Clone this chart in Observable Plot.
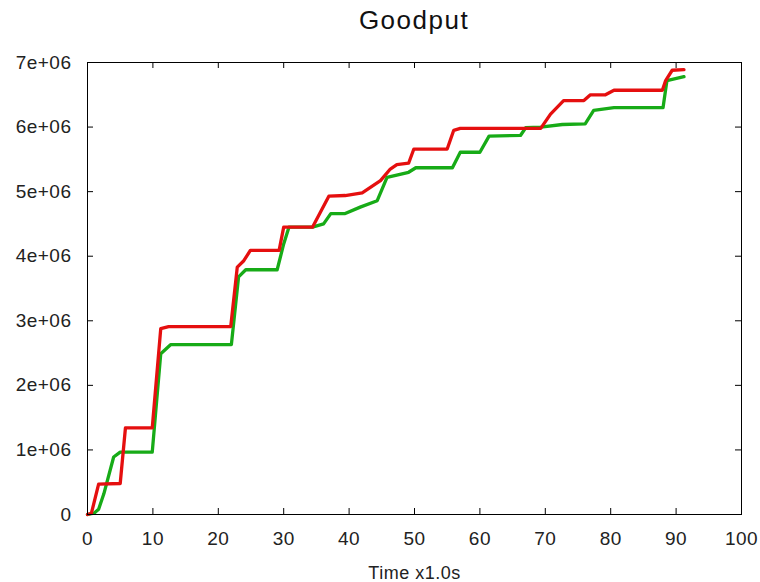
<!DOCTYPE html>
<html>
<head>
<meta charset="utf-8">
<script src="https://cdn.jsdelivr.net/npm/d3@7"></script>
<script src="https://cdn.jsdelivr.net/npm/@observablehq/plot@0.6"></script>
<style>
  html, body { margin: 0; padding: 0; background: #fff; }
  #wrap { position: relative; width: 760px; height: 582px; font-family: "Liberation Sans", Arial, sans-serif; }
  #title { position: absolute; left: 87px; width: 654px; top: 7px; line-height: 1; text-align: center; font-size: 26px; letter-spacing: 1.5px; color: #111; }
  svg { display: block; }
</style>
</head>
<body>
<div id="wrap"><div id="title">Goodput</div></div>
<script>
const redTime = [0, 0.6, 1.7, 5.0, 5.8, 9.9, 11.2, 12.4, 21.9, 22.9, 23.9, 24.9, 29.3, 30.0, 34.4, 36.9, 39.4, 42.0, 44.8, 46.3, 47.3, 49.1, 49.9, 55.0, 56.0, 57.0, 69.3, 70.8, 72.8, 75.9, 76.9, 79.2, 80.5, 87.9, 88.4, 89.4, 91.2];
const redGoodput = [0, 20000, 470000, 480000, 1340000, 1340000, 2880000, 2910000, 2910000, 3830000, 3930000, 4090000, 4090000, 4450000, 4450000, 4930000, 4940000, 4980000, 5170000, 5350000, 5420000, 5440000, 5660000, 5660000, 5950000, 5980000, 5980000, 6200000, 6410000, 6410000, 6500000, 6500000, 6570000, 6570000, 6720000, 6880000, 6890000];
const greenTime = [0, 1.0, 1.7, 2.5, 4.0, 5.0, 9.9, 11.2, 12.7, 22.0, 23.1, 24.2, 29.0, 30.0, 30.8, 34.4, 36.1, 37.2, 39.4, 41.7, 44.3, 45.8, 49.1, 50.2, 55.8, 57.0, 60.0, 61.4, 66.2, 67.0, 69.3, 72.6, 76.1, 77.4, 80.5, 88.0, 88.6, 91.2];
const greenGoodput = [0, 20000, 80000, 320000, 890000, 965000, 965000, 2490000, 2630000, 2630000, 3680000, 3790000, 3790000, 4190000, 4450000, 4450000, 4500000, 4660000, 4660000, 4760000, 4860000, 5220000, 5300000, 5370000, 5370000, 5610000, 5610000, 5860000, 5870000, 5990000, 6000000, 6040000, 6050000, 6260000, 6300000, 6300000, 6720000, 6780000];
const xTicks = [0, 10, 20, 30, 40, 50, 60, 70, 80, 90, 100];
const yTicks = [0, 1e6, 2e6, 3e6, 4e6, 5e6, 6e6, 7e6];
const xLabel = "Time x1.0s";

const red = redTime.map((t, i) => ({t, v: redGoodput[i]}));
const green = greenTime.map((t, i) => ({t, v: greenGoodput[i]}));
const yFmt = v => v === 0 ? "0" : `${v / 1e6}e+06`;

const W = 760, H = 582, ML = 87, MR = 19, MT = 62, MB = 68, TICK = 6;
const frameW = W - ML - MR, frameH = H - MT - MB;

const chart = Plot.plot({
  width: W,
  height: H,
  marginLeft: ML,
  marginRight: MR,
  marginTop: MT,
  marginBottom: MB,
  style: {fontFamily: "Liberation Sans, Arial, sans-serif", fontSize: "19px", color: "#222", background: "white", letterSpacing: "0.5px"},
  x: {domain: [0, 100]},
  y: {domain: [0, 7e6]},
  marks: [
    Plot.line(green, {x: "t", y: "v", stroke: "#17ab17", strokeWidth: 3.3}),
    Plot.line(red, {x: "t", y: "v", stroke: "#e50f0f", strokeWidth: 3.3}),
    Plot.frame({stroke: "#000", strokeWidth: 1}),
    Plot.tickX(xTicks, {x: d => d, stroke: "#000", insetTop: frameH - TICK}),
    Plot.tickX(xTicks, {x: d => d, stroke: "#000", insetBottom: frameH - TICK}),
    Plot.tickY(yTicks, {y: d => d, stroke: "#000", insetRight: frameW - TICK}),
    Plot.tickY(yTicks, {y: d => d, stroke: "#000", insetLeft: frameW - TICK}),
    Plot.axisX(xTicks, {anchor: "bottom", tickSize: 0, tickPadding: 17, label: null, fontSize: 19}),
    Plot.axisY(yTicks, {anchor: "left", tickSize: 0, tickPadding: 16, tickFormat: yFmt, label: null, fontSize: 19}),
    Plot.text([xLabel], {frameAnchor: "bottom", dy: 64, lineAnchor: "bottom", fontSize: 18, fill: "#222"})
  ]
});
document.getElementById("wrap").appendChild(chart);
</script>
</body>
</html>
